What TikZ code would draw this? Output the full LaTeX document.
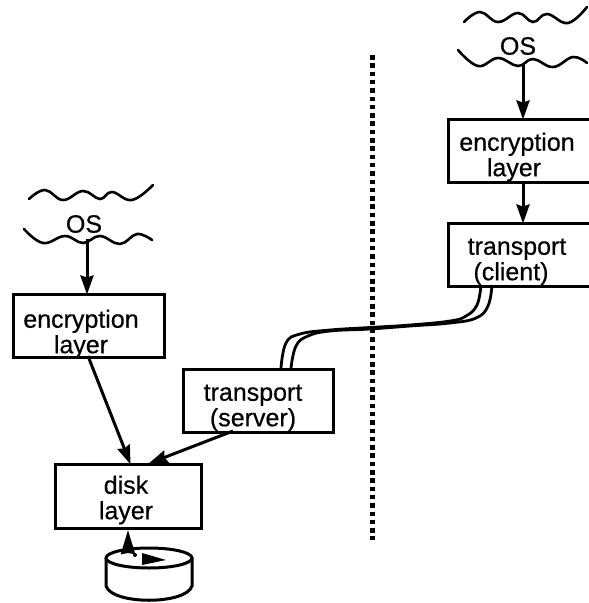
\documentclass[tikz,border=0pt]{standalone}
\usepackage{fontspec}
\setmainfont{Liberation Sans}
\newfontfamily\heavyfont[FakeBold=0.5]{Liberation Sans}
\usetikzlibrary{arrows.meta}
\tikzset{
  x=1pt,y=-1pt,
  boxnode/.style={draw=black,line width=3pt,inner sep=0pt,anchor=north west},
  lbl/.style={font=\heavyfont\fontsize{25}{25.5}\selectfont,align=center,inner sep=0pt,text=black},
  arr/.style={line width=3pt,draw=black,-{Stealth[length=19pt,width=13pt,inset=2pt]},shorten >=-1.5pt},
  wave/.style={line width=2.6pt,draw=black,line cap=round},
  pipe/.style={line width=2.8pt,draw=black},
}
\begin{document}
\begin{tikzpicture}
\useasboundingbox (0,0) rectangle (589,603);
\fill[white] (0,0) rectangle (589,603);
% dividing line
\coordinate (divtop) at (372,55);
\coordinate (divbot) at (372,540);
\draw[line width=5pt,dash pattern=on 4.5pt off 3.8pt] (divtop) -- (divbot);
% double pipe
\coordinate (cA) at (481,285); \coordinate (cB) at (492,285);
\coordinate (sA) at (281,368); \coordinate (sB) at (291,368);
\draw[pipe] plot[smooth,tension=0.7] coordinates {(cA) (477,305) (466,316) (450,321) (410,325) (370,327.5) (330,330) (300,334) (286,343) (sA)};
\draw[pipe] plot[smooth,tension=0.7] coordinates {(cB) (488,306) (476,318) (450,323) (410,326) (370,329) (330,331) (308,336) (296,346) (sB)};
% boxes
\node[boxnode,minimum width=151pt,minimum height=63pt] (encL) at (12,293) {};
\node[boxnode,minimum width=150pt,minimum height=63pt] (srv) at (182,368) {};
\node[boxnode,minimum width=146pt,minimum height=64pt] (disk) at (54,463) {};
\node[boxnode,minimum width=150pt,minimum height=63pt] (encR) at (447,118) {};
\node[boxnode,minimum width=150pt,minimum height=63pt] (cli) at (447,222) {};
% labels
\node[lbl] (tEncL) at (81,334) {encryption\\layer};
\node[lbl] (tSrv) at (253,408) {transport\\(server)};
\node[lbl] (tDisk) at (126,500) {disk\\layer};
\node[lbl] (tEncR) at (517,157) {encryption\\\hspace*{-6pt}layer};
\node[lbl] (tCli) at (517,262) {transport\\\hspace*{-12pt}(client)};
\node[lbl] (osL) at (84,224) {OS};
\node[lbl] (osR) at (518,46) {OS};
% waves
\draw[wave] plot[smooth,tension=0.7] coordinates {(29,199) (45,190) (63,200) (83,191) (100,199) (112,192) (132,200) (153,185)};
\draw[wave] plot[smooth,tension=0.7] coordinates {(24,229) (43,243) (65,236) (83,243) (100,236) (120,244) (137,234) (152,240)};
\draw[wave] plot[smooth,tension=0.7] coordinates {(464,22) (480,12) (498,22) (518,13) (533,22) (547,14) (568,23) (587,7)};
\draw[wave] plot[smooth,tension=0.7] coordinates {(458,50) (478,66) (498,58) (518,66) (533,59) (553,67) (573,57) (587,63)};
% arrows
\coordinate (osLs) at (87,239);
\coordinate (osRs) at (523,63);
\draw[arr] (osLs) -- (encL.north west -| osLs);
\draw[arr] (osRs) -- (encR.north west -| osRs);
\draw[arr] (encR.south west -| osRs) -- (cli.north west -| osRs);
\coordinate (dE) at (130,463);
\coordinate (dS) at (150,463);
\coordinate (eE) at (88,356);
\coordinate (sS) at (233,431);
\draw[arr] (eE) -- (dE);
\draw[arr] (sS) -- (dS);
% disk
\coordinate (cylC) at (149,558);
\draw[line width=3pt] (106,558) -- (106,586)
  .. controls (112,605) and (186,605) .. (192,586) -- (192,558);
\draw[line width=3pt,fill=white] (cylC) ellipse [x radius=43pt,y radius=10pt];
\coordinate (upS) at (128,549);
\draw[line width=3pt,-{Stealth[length=24pt,width=14pt,inset=1pt]}] (upS) -- (upS |- disk.south west);
\fill (135,555) circle (2pt);
\coordinate (pA) at (142,553); \coordinate (pB) at (142,565); \coordinate (pC) at (166,560);
\fill (pA) -- (pC) -- (pB) -- cycle;
\end{tikzpicture}
\end{document}
